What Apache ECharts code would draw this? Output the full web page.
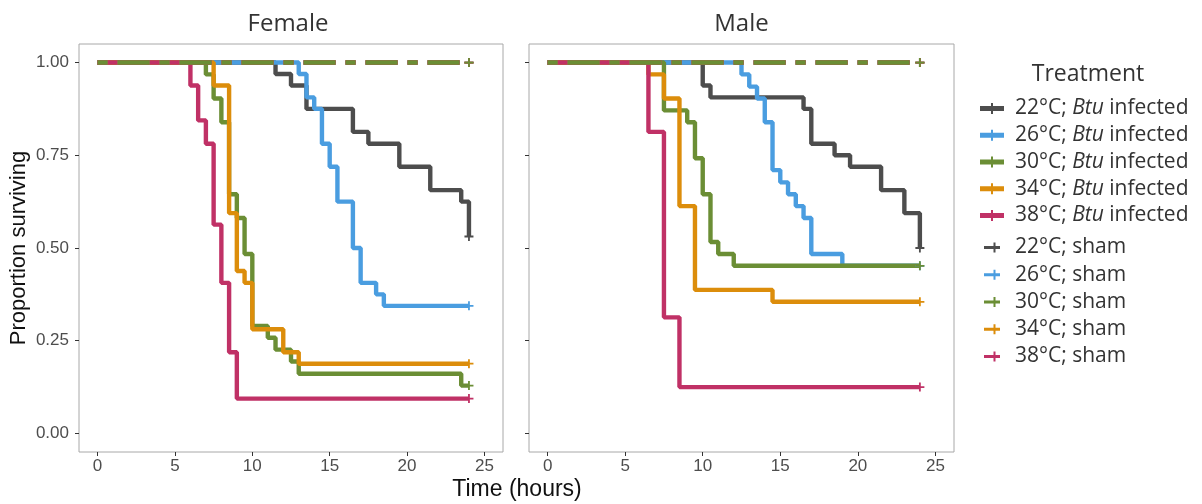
<!DOCTYPE html>
<html>
<head>
<meta charset="utf-8">
<title>Survival by temperature and infection</title>
<script src="https://cdn.jsdelivr.net/npm/echarts@6.0.0/dist/echarts.min.js"></script>
<style>
  html, body { margin: 0; padding: 0; background: #ffffff; }
  #chart { width: 1202px; height: 504px; }
</style>
</head>
<body>
<div id="chart"></div>
<script>
// ---- data -------------------------------------------------------------
const panels = ['Female', 'Male'];
const temperatures = ['22°C', '26°C', '30°C', '34°C', '38°C'];
const timeTicks = [0, 5, 10, 15, 20, 25];
const survivalTicks = [0, 0.25, 0.5, 0.75, 1];

// Kaplan-Meier estimates: [time (hours), proportion surviving] at each event
const female22 = [[0, 1], [11.5, 0.969], [12.5, 0.938], [13.5, 0.875], [16.5, 0.813], [17.5, 0.781], [19.5, 0.719], [21.5, 0.656], [23.5, 0.625], [24, 0.531]];
const female26 = [[0, 1], [13, 0.969], [13.5, 0.906], [14, 0.875], [14.5, 0.781], [15, 0.719], [15.5, 0.625], [16.5, 0.5], [17, 0.406], [18, 0.375], [18.5, 0.344], [24, 0.344]];
const female30 = [[0, 1], [7, 0.968], [7.5, 0.903], [8, 0.839], [8.5, 0.645], [9, 0.581], [9.5, 0.484], [10, 0.290], [11, 0.258], [11.5, 0.226], [12.5, 0.194], [13, 0.161], [23.5, 0.129], [24, 0.129]];
const female34 = [[0, 1], [7.5, 0.938], [8.5, 0.594], [9, 0.438], [9.5, 0.406], [10, 0.281], [12, 0.219], [13, 0.188], [24, 0.188]];
const female38 = [[0, 1], [6, 0.938], [6.5, 0.844], [7, 0.781], [7.5, 0.563], [8, 0.406], [8.5, 0.219], [9, 0.094], [24, 0.094]];

const male22 = [[0, 1], [10, 0.938], [10.5, 0.906], [16.5, 0.875], [17, 0.781], [18.5, 0.75], [19.5, 0.719], [21.5, 0.656], [23, 0.594], [24, 0.5]];
const male26 = [[0, 1], [12.5, 0.968], [13, 0.935], [13.5, 0.903], [14, 0.839], [14.5, 0.710], [15, 0.677], [15.5, 0.645], [16, 0.613], [16.5, 0.581], [17, 0.484], [19, 0.452], [24, 0.452]];
const male30 = [[0, 1], [7.5, 0.871], [9, 0.839], [9.5, 0.742], [10, 0.645], [10.5, 0.516], [11, 0.484], [12, 0.452], [24, 0.452]];
const male34 = [[0, 1], [6.5, 0.968], [7.5, 0.903], [8.5, 0.613], [9.5, 0.387], [14.5, 0.355], [24, 0.355]];
const male38 = [[0, 1], [6.5, 0.813], [7.5, 0.313], [8.5, 0.125], [24, 0.125]];

// sham-treated groups: no deaths over the 24 h
const shamCurve = [[0, 1], [24, 1]];

const infectedCurves = [
  [female22, female26, female30, female34, female38],
  [male22, male26, male30, male34, male38]
];

// ---- styling ----------------------------------------------------------
const palette = ['#4d4d4d', '#4a9de0', '#6b8e35', '#dc8d0b', '#c03166'];
const plusSymbol = 'path://M0,3.6H9V5.4H0Z M3.6,0H5.4V9H3.6Z';
const shamDash = [10, 10, 32, 10];
const shamDrawOrder = [0, 1, 3, 4, 2];          // 30°C sham ends up on top
const infectedIcon = 'path://M0,3H24V8H0Z M11,0H13V11H11Z';
const shamIcon = 'path://M0,3.5H16V6.5H0Z M9.5,0H11.5V10H9.5Z';
const infectedName = t => t + '; Btu infected';
const shamName = t => t + '; sham';

function makeLine(name, p, curve, color, dash) {
  const last = curve[curve.length - 1];
  return {
    type: 'line',
    name: name,
    xAxisIndex: p,
    yAxisIndex: p,
    data: curve,
    step: 'end',
    symbol: 'none',
    silent: true,
    color: color,
    lineStyle: { color: color, width: 4.4, type: dash, cap: 'butt' },
    markPoint: {
      symbol: plusSymbol,
      symbolSize: 9,
      silent: true,
      animation: false,
      label: { show: false },
      itemStyle: { color: color },
      data: [{ coord: last }]
    }
  };
}

const series = [];
panels.forEach((panel, p) => {
  temperatures.forEach((t, i) => {
    series.push(makeLine(infectedName(t), p, infectedCurves[p][i], palette[i], 'solid'));
  });
  shamDrawOrder.forEach(i => {
    series.push(makeLine(shamName(temperatures[i]), p, shamCurve, palette[i], shamDash));
  });
});

const tickFont = { color: '#4d4d4d', fontSize: 17, fontFamily: 'Liberation Sans' };
const legendText = {
  color: '#333333', fontSize: 21, fontFamily: 'Open Sans', lineHeight: 21,
  rich: { i: { color: '#333333', fontSize: 21, fontFamily: 'Open Sans', fontStyle: 'italic', lineHeight: 21 } }
};

const option = {
  animation: false,
  backgroundColor: '#ffffff',
  grid: [
    { left: 79, top: 44, width: 424, height: 408, show: true, borderColor: '#a8a8a8', borderWidth: 1, backgroundColor: 'transparent', outerBoundsMode: 'none' },
    { left: 529, top: 44, width: 425, height: 408, show: true, borderColor: '#a8a8a8', borderWidth: 1, backgroundColor: 'transparent', outerBoundsMode: 'none' }
  ],
  xAxis: panels.map((_, p) => ({
    type: 'value', gridIndex: p, min: -1.2, max: 26.2,
    splitLine: { show: false },
    axisLine: { show: false, onZero: false },
    axisTick: { show: true, length: 4, customValues: timeTicks, lineStyle: { color: '#333333', width: 1 } },
    axisLabel: Object.assign({ customValues: timeTicks, margin: 6 }, tickFont)
  })),
  yAxis: panels.map((_, p) => ({
    type: 'value', gridIndex: p, min: -0.05, max: 1.05,
    splitLine: { show: false },
    axisLine: { show: false, onZero: false },
    axisTick: { show: true, length: 4, customValues: survivalTicks, lineStyle: { color: '#333333', width: 1 } },
    axisLabel: Object.assign({ show: p === 0, customValues: survivalTicks, margin: 10, formatter: v => v.toFixed(2) }, tickFont)
  })),
  legend: [
    {
      data: temperatures.map(infectedName),
      orient: 'vertical', left: 980, top: 98, padding: 0,
      itemWidth: 24, itemHeight: 11, itemGap: 5.75,
      icon: infectedIcon, selectedMode: false,
      itemStyle: { borderWidth: 0 },
      textStyle: Object.assign({ padding: [0, 0, 0, 6] }, legendText),
      formatter: n => n.replace('Btu', '{i|Btu}')
    },
    {
      data: temperatures.map(shamName),
      orient: 'vertical', left: 984, top: 237, padding: 0,
      itemWidth: 16, itemHeight: 10, itemGap: 6.25,
      icon: shamIcon, selectedMode: false,
      itemStyle: { borderWidth: 0 },
      textStyle: Object.assign({ padding: [0, 0, 0, 10] }, legendText)
    }
  ],
  graphic: [
    { type: 'text', x: 288, y: 24, silent: true, style: { text: panels[0], fontSize: 24, fontFamily: 'Open Sans', fill: '#333333', align: 'center', verticalAlign: 'middle' } },
    { type: 'text', x: 741.5, y: 24, silent: true, style: { text: panels[1], fontSize: 24, fontFamily: 'Open Sans', fill: '#333333', align: 'center', verticalAlign: 'middle' } },
    { type: 'text', x: 1088, y: 74, silent: true, style: { text: 'Treatment', fontSize: 23, fontFamily: 'Open Sans', fill: '#333333', align: 'center', verticalAlign: 'middle' } },
    { type: 'text', x: 517, y: 490, silent: true, style: { text: 'Time (hours)', fontSize: 23, fontFamily: 'Liberation Sans', fill: '#111111', align: 'center', verticalAlign: 'middle' } },
    { type: 'text', x: 19, y: 248, rotation: Math.PI / 2, silent: true, style: { text: 'Proportion surviving', fontSize: 22, fontFamily: 'Liberation Sans', fill: '#111111', align: 'center', verticalAlign: 'middle' } }
  ],
  series: series
};

const chart = echarts.init(document.getElementById('chart'), null, { renderer: 'canvas' });
chart.setOption(option);
</script>
</body>
</html>
